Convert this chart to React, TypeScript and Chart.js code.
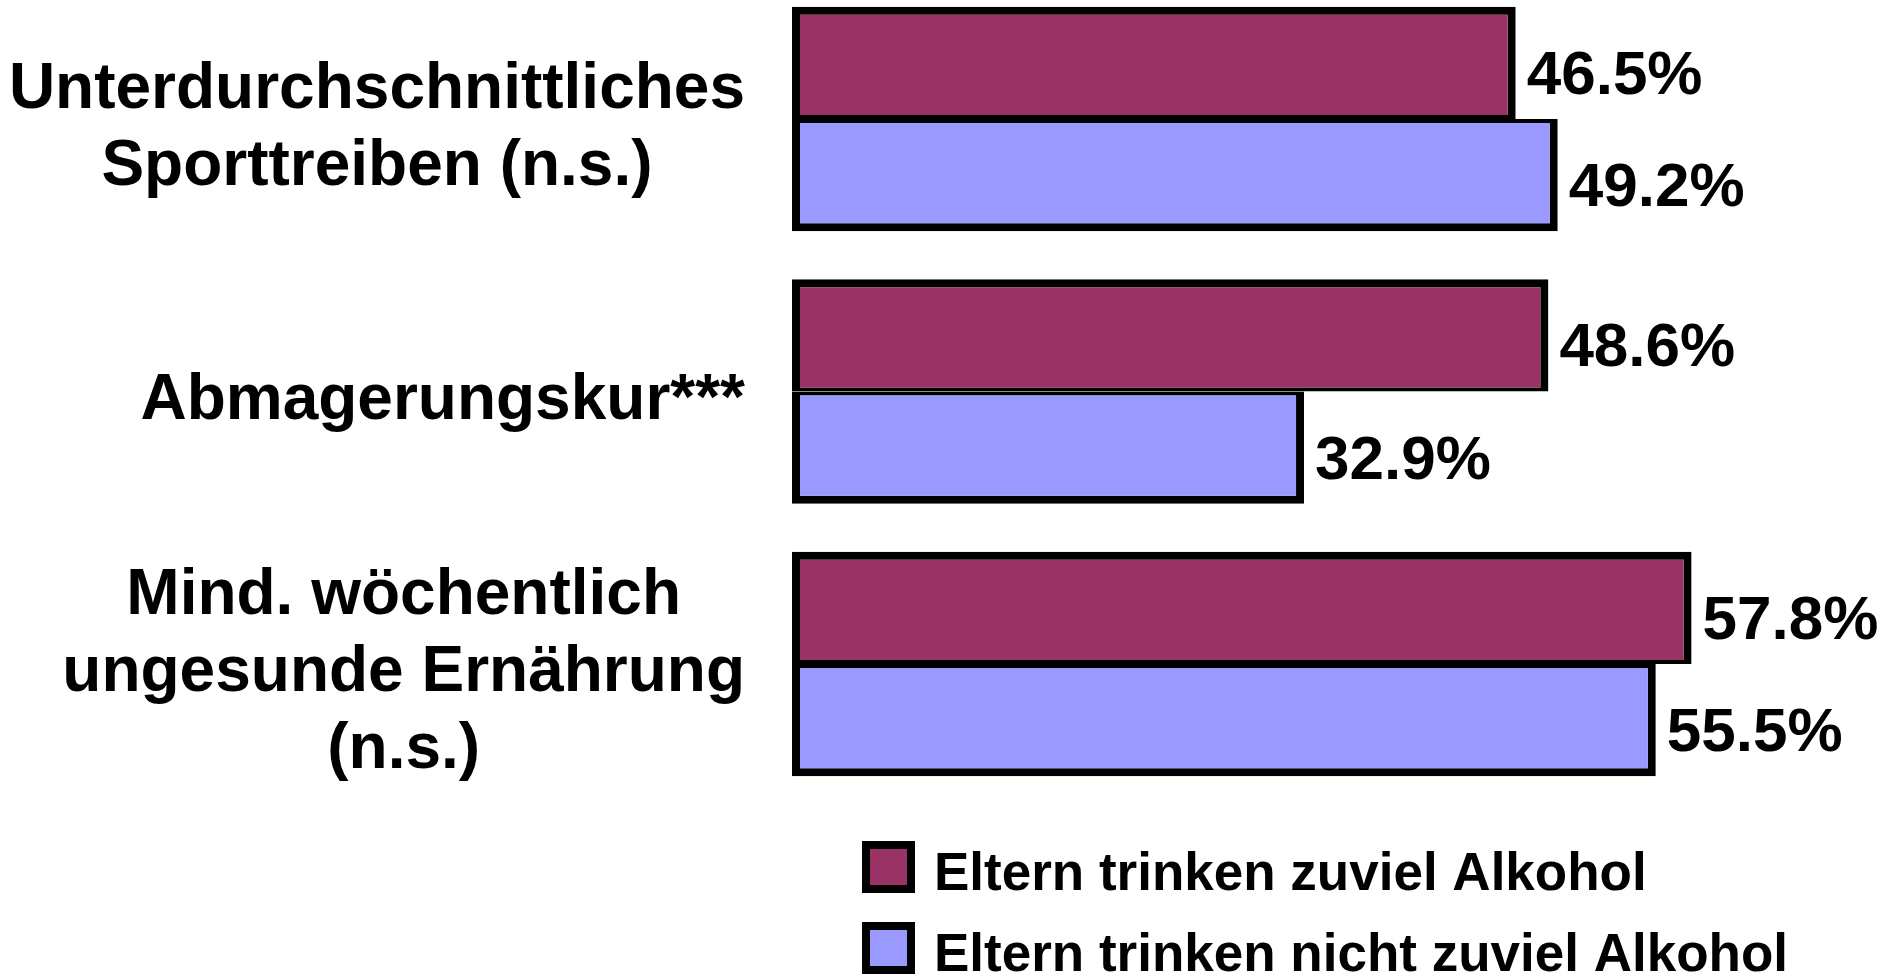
import React, { useEffect, useRef } from "react";
import { Chart, registerables } from "chart.js";

Chart.register(...registerables);

const categories: string[][] = [
  ["Unterdurchschnittliches", "Sporttreiben (n.s.)"],
  ["Abmagerungskur***"],
  ["Mind. wöchentlich", "ungesunde Ernährung", "(n.s.)"],
];
const seriesNames = ["Eltern trinken zuviel Alkohol", "Eltern trinken nicht zuviel Alkohol"];
const parentsDrinkTooMuch = [46.5, 48.6, 57.8];
const parentsDoNotDrinkTooMuch = [49.2, 32.9, 55.5];
const seriesColors = ["#993366", "#9999FF"];

const FONT = '"Liberation Sans", Arial, sans-serif';

const textPlugin = {
  id: "customText",
  afterDatasetsDraw(chart: any) {
    const ctx = chart.ctx as CanvasRenderingContext2D;
    const yScale = chart.scales.y;
    ctx.save();
    ctx.fillStyle = "#000";
    ctx.textBaseline = "alphabetic";

    // category labels: block right-aligned, lines centred within block
    ctx.font = `bold 64px ${FONT}`;
    ctx.textAlign = "center";
    const blockRight = chart.chartArea.left - 47;
    const lh = 77;
    categories.forEach((lines, i) => {
      const cy = yScale.getPixelForValue(i);
      const w = Math.max(...lines.map((l) => ctx.measureText(l).width));
      const cx = blockRight - w / 2;
      lines.forEach((line, j) => {
        ctx.fillText(line, cx, cy + (j - (lines.length - 1) / 2) * lh + 27);
      });
    });

    // value labels
    ctx.font = `bold 62px ${FONT}`;
    ctx.textAlign = "left";
    chart.data.datasets.forEach((ds: any, d: number) => {
      const meta = chart.getDatasetMeta(d);
      meta.data.forEach((bar: any, i: number) => {
        ctx.fillText(`${Number(ds.data[i]).toFixed(1)}%`, bar.x + 11, bar.y + 31);
      });
    });

    // legend
    ctx.font = `bold 53px ${FONT}`;
    const boxLeft = 862;
    const boxSize = 52;
    const rowTops = [841, 922];
    chart.data.datasets.forEach((ds: any, d: number) => {
      const top = rowTops[d];
      ctx.fillStyle = "#000";
      ctx.fillRect(boxLeft, top, boxSize + 1, boxSize);
      ctx.fillStyle = ds.backgroundColor;
      ctx.fillRect(boxLeft + 8, top + 8, boxSize + 1 - 16, boxSize - 16);
      ctx.fillStyle = "#000";
      ctx.fillText(ds.label, 934, top + boxSize - 3);
    });
    ctx.restore();
  },
};

export default function App() {
  const canvasRef = useRef<HTMLCanvasElement | null>(null);

  useEffect(() => {
    document.body.style.margin = "0";
    document.body.style.overflow = "hidden";
    const canvas = canvasRef.current;
    if (!canvas) return;
    const chart = new Chart(canvas, {
      type: "bar",
      data: {
        labels: categories.map((c) => c.join(" ")),
        datasets: [
          {
            label: seriesNames[0],
            data: parentsDrinkTooMuch,
            backgroundColor: seriesColors[0],
            borderColor: "#000",
            borderWidth: { top: 8, right: 8, bottom: 4, left: 8 },
            borderSkipped: false,
            clip: false,
          } as any,
          {
            label: seriesNames[1],
            data: parentsDoNotDrinkTooMuch,
            backgroundColor: seriesColors[1],
            borderColor: "#000",
            borderWidth: { top: 4, right: 8, bottom: 8, left: 8 },
            borderSkipped: false,
            clip: false,
          } as any,
        ],
      },
      options: {
        indexAxis: "y",
        responsive: false,
        animation: false,
        events: [],
        layout: { padding: { top: 119, bottom: 311, left: 0, right: 0 } },
        datasets: {
          bar: { categoryPercentage: 0.823, barPercentage: 1 },
        },
        scales: {
          x: { type: "linear", min: 0, max: 70.1, display: false },
          y: {
            type: "category",
            offset: false,
            grid: { display: false },
            border: { display: false },
            ticks: { display: false },
            afterFit: (s: any) => {
              s.width = 792;
            },
          },
        },
        plugins: {
          legend: { display: false },
          tooltip: { enabled: false },
        },
      },
      plugins: [textPlugin],
    });
    return () => chart.destroy();
  }, []);

  return (
    <div style={{ position: "absolute", left: 0, top: 0, width: 1883, height: 975, background: "#fff" }}>
      <canvas ref={canvasRef} width={1883} height={975} />
    </div>
  );
}
